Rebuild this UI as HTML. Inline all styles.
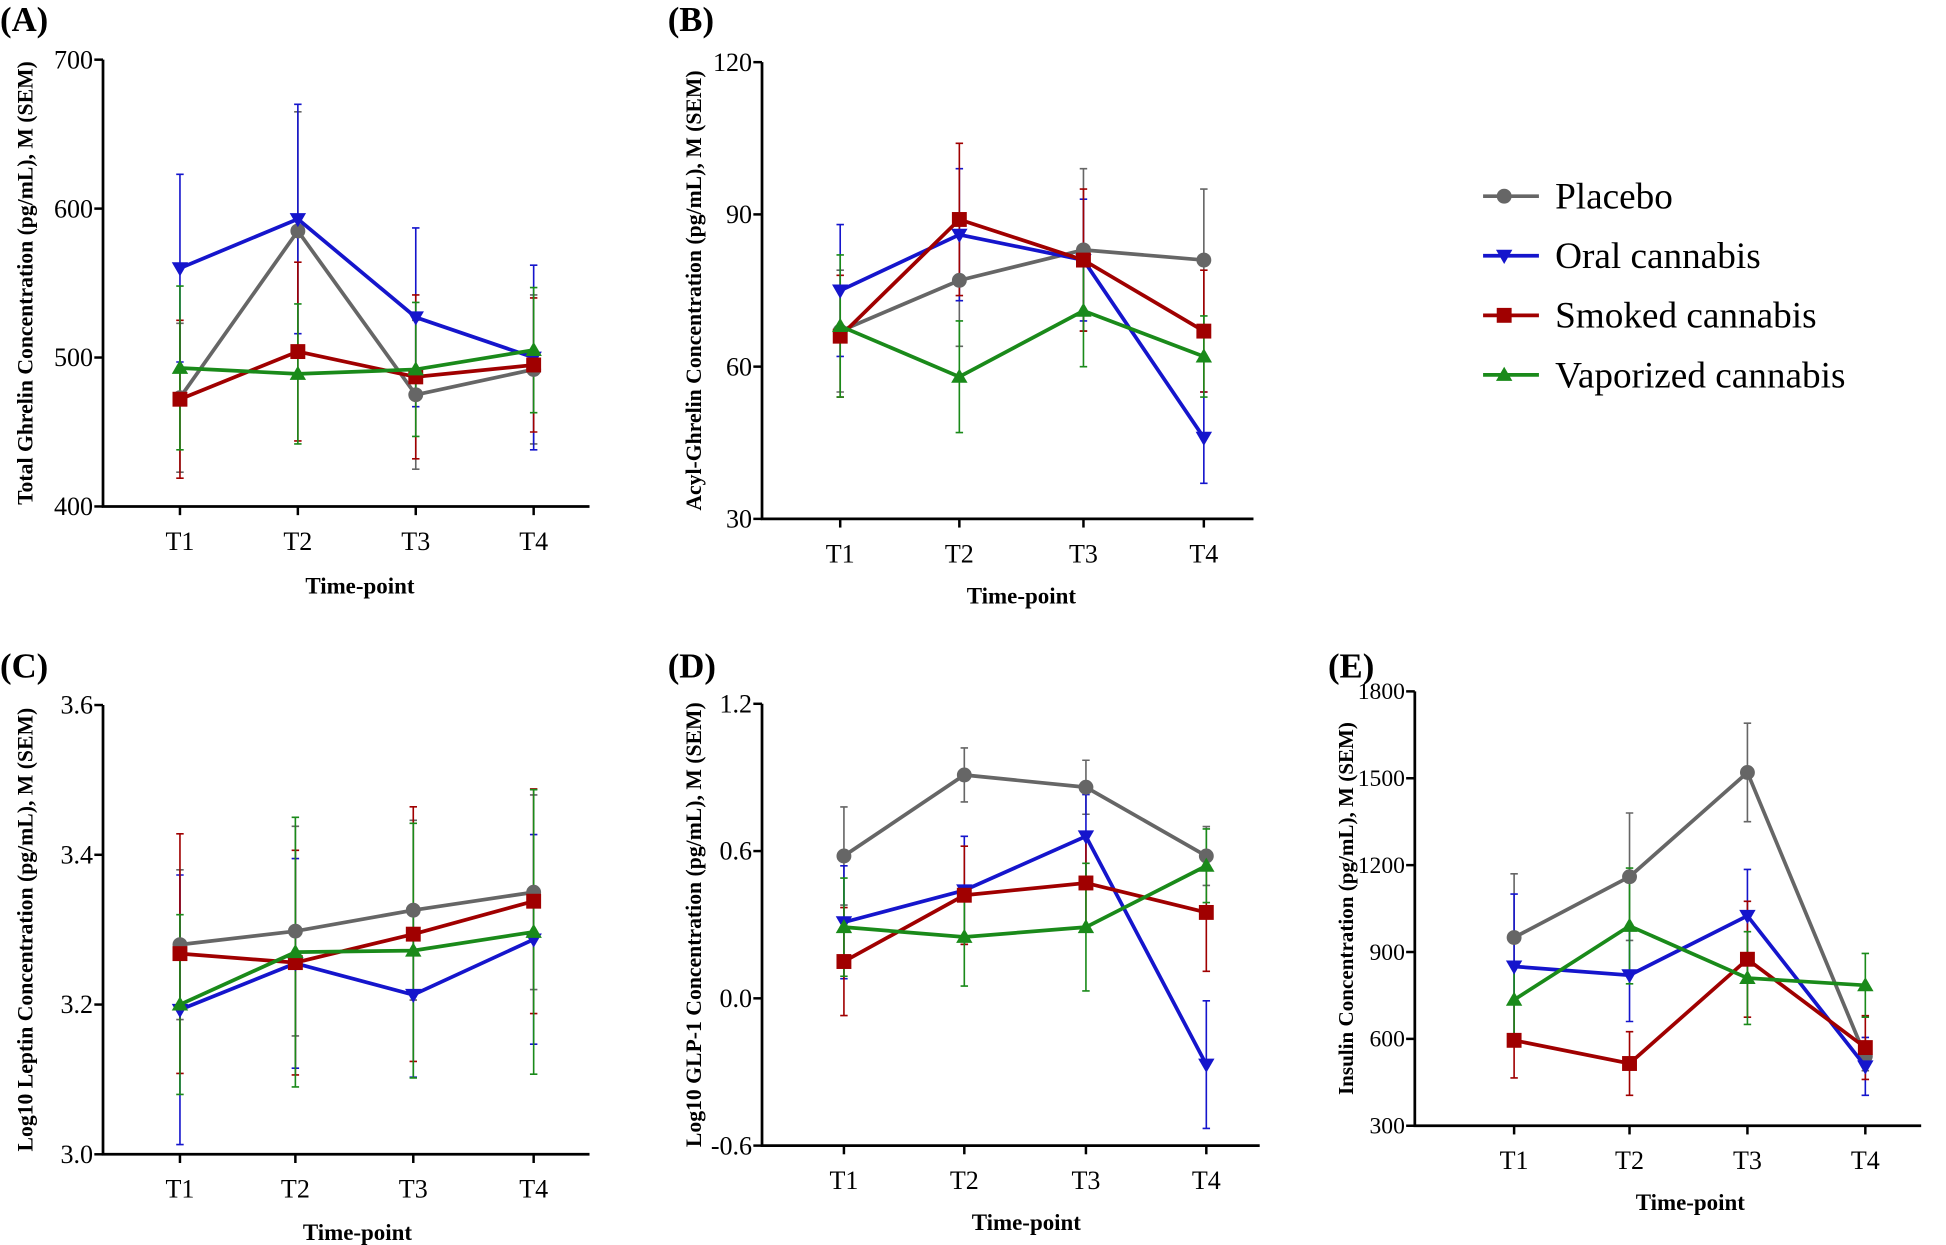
<!DOCTYPE html>
<html><head><meta charset="utf-8"><style>
html,body{margin:0;padding:0;background:#fff;}
svg{display:block;}
text{font-family:"Liberation Serif",serif;fill:#000;}
</style></head><body>
<svg id="s" width="1946" height="1245" viewBox="0 0 1568 1003" xmlns="http://www.w3.org/2000/svg">
<text x="0" y="25" font-size="28" font-weight="bold">(A)</text>
<text x="538" y="25" font-size="28" font-weight="bold">(B)</text>
<text x="0" y="546" font-size="28" font-weight="bold">(C)</text>
<text x="538" y="546" font-size="28" font-weight="bold">(D)</text>
<text x="1070" y="546" font-size="28" font-weight="bold">(E)</text>
<g font-size="17.5" font-weight="bold">
<text transform="translate(26,228) rotate(-90)" text-anchor="middle">Total Ghrelin Concentration (pg/mL), M (SEM)</text>
<text transform="translate(565,234) rotate(-90)" text-anchor="middle">Acyl-Ghrelin Concentration (pg/mL), M (SEM)</text>
<text transform="translate(26,749) rotate(-90)" text-anchor="middle">Log10 Leptin Concentration (pg/mL), M (SEM)</text>
<text transform="translate(565,745) rotate(-90)" text-anchor="middle">Log10 GLP-1 Concentration (pg/mL), M (SEM)</text>
<text transform="translate(1090,732) rotate(-90)" text-anchor="middle" font-size="17">Insulin Concentration (pg/mL), M (SEM)</text>
</g>
<g font-size="18.5" font-weight="bold" text-anchor="middle">
<text x="290" y="478">Time-point</text>
<text x="823" y="486">Time-point</text>
<text x="288" y="999">Time-point</text>
<text x="827" y="991">Time-point</text>
<text x="1362" y="975">Time-point</text>
</g>
<g font-size="30">
<text x="1253" y="168">Placebo</text>
<text x="1253" y="216">Oral cannabis</text>
<text x="1253" y="264">Smoked cannabis</text>
<text x="1253" y="312">Vaporized cannabis</text>
</g>
<g id="g"></g>
</svg>
<script>
var C={p:"#666666",o:"#1515cc",s:"#a00000",v:"#1a8a1a"};
var g=document.getElementById('g'),h='';
function mk(k,x,y,r){r=r||6;
 if(k=='p')return '<circle cx="'+x+'" cy="'+y+'" r="'+r+'" fill="'+C.p+'"/>';
 if(k=='s')return '<rect x="'+(x-r)+'" y="'+(y-r)+'" width="'+2*r+'" height="'+2*r+'" fill="'+C.s+'"/>';
 if(k=='o')return '<polygon points="'+(x-r*1.1)+','+(y-r*0.8)+' '+(x+r*1.1)+','+(y-r*0.8)+' '+x+','+(y+r*1.1)+'" fill="'+C.o+'"/>';
 return '<polygon points="'+(x-r*1.1)+','+(y+r*0.8)+' '+(x+r*1.1)+','+(y+r*0.8)+' '+x+','+(y-r*1.1)+'" fill="'+C.v+'"/>';}
function panel(P){
 var fs=P.fs||21;
 var f=function(v){return P.y1+(v-P.v0)*(P.y0-P.y1)/(P.v1-P.v0);};
 h+='<path d="M'+P.ax+','+P.y0+'V'+P.y1+'H'+P.ae+'" stroke="#000" stroke-width="2.2" fill="none"/>';
 P.ticks.forEach(function(t){var y=f(t);h+='<line x1="'+(P.ax-7)+'" x2="'+P.ax+'" y1="'+y+'" y2="'+y+'" stroke="#000" stroke-width="2"/><text x="'+(P.ax-8)+'" y="'+(y+fs/3)+'" text-anchor="end" font-size="'+fs+'">'+P.lab(t)+'</text>';});
 P.xs.forEach(function(x,i){h+='<line x1="'+x+'" x2="'+x+'" y1="'+P.y1+'" y2="'+(P.y1+7)+'" stroke="#000" stroke-width="2"/><text x="'+x+'" y="'+(P.y1+35)+'" text-anchor="middle" font-size="21">T'+(i+1)+'</text>';});
 ['p','o','s','v'].forEach(function(k){var d=P.d[k],e=P.e[k];
  d.forEach(function(v,i){var x=P.xs[i],a=f(v+e[i]),b=f(v-e[i]);
   h+='<path d="M'+x+','+a+'V'+b+'M'+(x-3)+','+a+'h6M'+(x-3)+','+b+'h6" stroke="'+C[k]+'" stroke-width="1.3"/>';});});
 ['p','o','s','v'].forEach(function(k){var d=P.d[k];
  h+='<polyline points="'+d.map(function(v,i){return P.xs[i]+','+f(v)}).join(' ')+'" fill="none" stroke="'+C[k]+'" stroke-width="3"/>';
  d.forEach(function(v,i){h+=mk(k,P.xs[i],f(v));});});
}
panel({ax:83,ae:475,y0:48,y1:408,v0:400,v1:700,ticks:[400,500,600,700],lab:String,xs:[145,240,335,430],
 d:{p:[473,585,475,492],o:[560,593,527,500],s:[472,504,487,495],v:[493,489,492,505]},
 e:{p:[50,80,50,50],o:[63,77,60,62],s:[53,60,55,45],v:[55,47,45,42]}});
panel({ax:614,ae:1010,y0:50,y1:418,v0:30,v1:120,ticks:[30,60,90,120],lab:String,xs:[677,773,873,970],
 d:{p:[67,77,83,81],o:[75,86,81,46],s:[66,89,81,67],v:[68,58,71,62]},
 e:{p:[12,13,16,14],o:[13,13,12,9],s:[12,15,14,12],v:[14,11,11,8]}});
panel({ax:83,ae:475,y0:568,y1:930,v0:3.0,v1:3.6,ticks:[3.0,3.2,3.4,3.6],lab:function(t){return t.toFixed(1)},xs:[145,238,333,430],
 d:{p:[3.28,3.298,3.326,3.35],o:[3.193,3.255,3.213,3.287],s:[3.268,3.256,3.294,3.338],v:[3.2,3.27,3.272,3.297]},
 e:{p:[0.1,0.14,0.12,0.13],o:[0.18,0.14,0.11,0.14],s:[0.16,0.15,0.17,0.15],v:[0.12,0.18,0.17,0.19]}});
panel({ax:614,ae:1015,y0:567,y1:923,v0:-0.6,v1:1.2,ticks:[-0.6,0,0.6,1.2],lab:function(t){return t.toFixed(1)},xs:[680,777,875,972],
 d:{p:[0.58,0.91,0.86,0.58],o:[0.31,0.44,0.66,-0.27],s:[0.15,0.42,0.47,0.35],v:[0.29,0.25,0.29,0.54]},
 e:{p:[0.2,0.11,0.11,0.12],o:[0.23,0.22,0.17,0.26],s:[0.22,0.2,0.2,0.24],v:[0.2,0.2,0.26,0.15]}});
panel({ax:1140,ae:1548,y0:557,y1:907,v0:300,v1:1800,fs:19,ticks:[300,600,900,1200,1500,1800],lab:String,xs:[1220,1313,1408,1503],
 d:{p:[950,1160,1520,540],o:[850,820,1025,505],s:[595,515,875,570],v:[735,990,810,785]},
 e:{p:[220,220,170,50],o:[250,160,160,100],s:[130,110,200,110],v:[130,200,160,110]}});
['p','o','s','v'].forEach(function(k,i){var y=158+48*i;
 h+='<line x1="1195" x2="1240" y1="'+y+'" y2="'+y+'" stroke="'+C[k]+'" stroke-width="3"/>'+mk(k,1212,y);});
g.innerHTML=h;
</script>
</body></html>
